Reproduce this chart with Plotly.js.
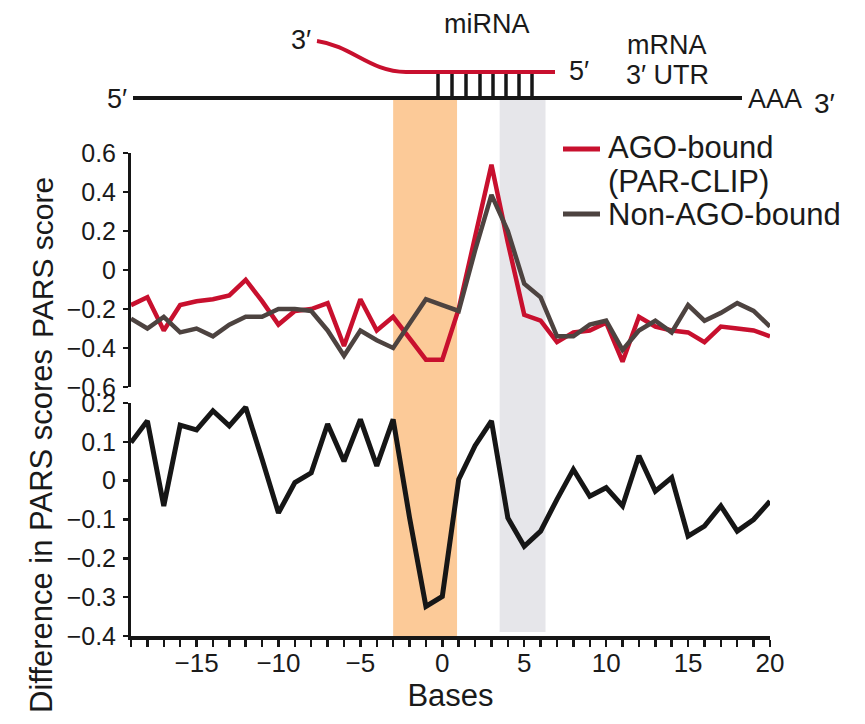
<!DOCTYPE html>
<html>
<head>
<meta charset="utf-8">
<script src="https://cdn.plot.ly/plotly-3.0.1.min.js"></script>
<style>html,body{margin:0;padding:0;background:#fff;}#chart{width:865px;height:724px;}</style>
</head>
<body>
<div id="chart"></div>
<script>
// ---- data ----
const bases = [-19,-18,-17,-16,-15,-14,-13,-12,-11,-10,-9,-8,-7,-6,-5,-4,-3,-2,-1,0,1,2,3,4,5,6,7,8,9,10,11,12,13,14,15,16,17,18,19,20];
const agoBound = [-0.18,-0.14,-0.31,-0.18,-0.16,-0.15,-0.13,-0.05,-0.16,-0.28,-0.21,-0.20,-0.17,-0.39,-0.15,-0.31,-0.24,-0.35,-0.46,-0.46,-0.20,0.17,0.54,0.14,-0.23,-0.26,-0.37,-0.32,-0.31,-0.27,-0.47,-0.24,-0.29,-0.31,-0.32,-0.37,-0.29,-0.30,-0.31,-0.34];
const nonAgoBound = [-0.25,-0.30,-0.24,-0.32,-0.30,-0.34,-0.28,-0.24,-0.24,-0.20,-0.20,-0.21,-0.31,-0.44,-0.31,-0.36,-0.40,-0.27,-0.15,-0.18,-0.21,0.10,0.385,0.20,-0.07,-0.14,-0.34,-0.34,-0.28,-0.26,-0.41,-0.31,-0.26,-0.32,-0.18,-0.26,-0.22,-0.17,-0.21,-0.29];
const difference = [0.098,0.154,-0.065,0.143,0.131,0.18,0.141,0.189,0.055,-0.083,-0.005,0.02,0.146,0.05,0.158,0.038,0.158,-0.095,-0.324,-0.298,0.003,0.09,0.154,-0.096,-0.169,-0.13,-0.048,0.029,-0.04,-0.018,-0.065,0.064,-0.027,0.008,-0.143,-0.117,-0.065,-0.13,-0.1,-0.053];
const xTickVals = [-15,-10,-5,0,5,10,15,20];
const upperTicks = [-0.6,-0.4,-0.2,0,0.2,0.4,0.6];
const lowerTicks = [-0.4,-0.3,-0.2,-0.1,0,0.1,0.2];
const seriesNames = ['AGO-bound', '(PAR-CLIP)', 'Non-AGO-bound'];
const axisTitles = ['PARS score', 'Difference in PARS scores', 'Bases'];
const orangeBand = [-3, 0.9];
const greyBand = [3.5, 6.3];

// ---- style ----
const FONT = 'Liberation Sans, Arial, Helvetica, sans-serif';
const RED = '#c8102e';
const DARK = '#4d4340';
const BLACK = '#161616';
const TXT = '#1a1a1a';
const ML = 131, MR = 95, MT = 0, MB = 88, W = 865, H = 724;
const PW = W - ML - MR, PH = H - MT - MB;
const fx = x => (x - ML) / PW;
const fy = y => (PH + MT - y) / PH;
const minus = v => v < 0 ? '−' + Math.abs(v) : String(v);

const traces = [
  {x: bases, y: agoBound, xaxis: 'x', yaxis: 'y', mode: 'lines', name: 'AGO-bound (PAR-CLIP)',
   line: {color: RED, width: 4.5}, showlegend: false},
  {x: bases, y: nonAgoBound, xaxis: 'x', yaxis: 'y', mode: 'lines', name: 'Non-AGO-bound',
   line: {color: DARK, width: 4.5}, showlegend: false},
  {x: bases, y: difference, xaxis: 'x', yaxis: 'y2', mode: 'lines', name: 'Difference',
   line: {color: BLACK, width: 5}, showlegend: false}
];

const shapes = [];
shapes.push({type: 'rect', layer: 'below', xref: 'x', yref: 'paper', x0: orangeBand[0], x1: orangeBand[1],
  y0: 0, y1: fy(100), fillcolor: '#fcca98', line: {width: 0}});
shapes.push({type: 'rect', layer: 'below', xref: 'x', yref: 'paper', x0: greyBand[0], x1: greyBand[1],
  y0: fy(632), y1: fy(100), fillcolor: '#e6e6ea', line: {width: 0}});
shapes.push({type: 'line', xref: 'paper', yref: 'paper', x0: fx(133), x1: fx(742), y0: fy(98), y1: fy(98),
  line: {color: BLACK, width: 4}});
[438, 452, 466, 480, 493, 506, 519, 532].forEach(px => {
  shapes.push({type: 'line', xref: 'paper', yref: 'paper', x0: fx(px), x1: fx(px), y0: fy(74), y1: fy(97),
    line: {color: BLACK, width: 3.5}});
});
const p = (x, y) => fx(x).toFixed(5) + ',' + fy(y).toFixed(5);
shapes.push({type: 'path', xref: 'paper', yref: 'paper',
  path: 'M' + p(317, 41) + ' C' + p(352, 46) + ' ' + p(370, 72) + ' ' + p(406, 72) + ' L' + p(555, 72),
  line: {color: RED, width: 4}});
shapes.push({type: 'line', xref: 'paper', yref: 'paper', x0: fx(563), x1: fx(600), y0: fy(149), y1: fy(149),
  line: {color: RED, width: 5}});
shapes.push({type: 'line', xref: 'paper', yref: 'paper', x0: fx(563), x1: fx(600), y0: fy(214), y1: fy(214),
  line: {color: DARK, width: 5}});

const ann = (text, x, y, size, xanchor, angle) => ({text: text, xref: 'paper', yref: 'paper', x: fx(x), y: fy(y),
  xanchor: xanchor || 'center', yanchor: 'middle', showarrow: false, textangle: angle || 0,
  font: {family: FONT, size: size, color: TXT}});

const annotations = [
  ann('miRNA', 487, 24, 27),
  ann('3′', 301, 40, 27),
  ann('5′', 579, 71, 27),
  ann('mRNA', 667, 45, 27),
  ann('3′ UTR', 667, 75, 27),
  ann('5′', 117, 99, 27),
  ann('AAA', 746, 99, 27, 'left'),
  ann('3′', 812, 104, 28, 'left'),
  ann(seriesNames[0], 606, 147, 31, 'left'),
  ann(seriesNames[1], 606, 181, 31, 'left'),
  ann(seriesNames[2], 606, 214, 31, 'left'),
  ann(axisTitles[0], 42, 257, 30, 'center', -90),
  ann(axisTitles[1], 41, 531, 31, 'center', -90)
];

const yCommon = {
  ticks: 'outside', ticklen: 5, tickwidth: 2.5, tickcolor: BLACK,
  showline: true, linecolor: BLACK, linewidth: 3, showgrid: false, zeroline: false,
  tickfont: {family: FONT, size: 25, color: TXT}, ticklabelstandoff: 2
};

const layout = {
  width: W, height: H,
  margin: {l: ML, r: MR, t: MT, b: MB, pad: 0},
  paper_bgcolor: '#ffffff', plot_bgcolor: 'rgba(0,0,0,0)',
  font: {family: FONT, color: TXT},
  showlegend: false,
  xaxis: {
    domain: [0, 1], anchor: 'y2', range: [-19, 20],
    tickvals: xTickVals, ticktext: xTickVals.map(minus),
    ticks: 'outside', ticklen: 7, tickwidth: 2.5, tickcolor: BLACK,
    minor: {dtick: 1, tick0: 0, ticks: 'outside', ticklen: 7, tickwidth: 2.5, tickcolor: BLACK},
    showline: true, linecolor: BLACK, linewidth: 4, showgrid: false, zeroline: false,
    tickfont: {family: FONT, size: 26, color: TXT}, ticklabelstandoff: -6,
    title: {text: axisTitles[2], font: {family: FONT, size: 31, color: TXT}, standoff: 0}
  },
  yaxis: Object.assign({
    domain: [fy(387), fy(153)], anchor: 'x', range: [-0.6, 0.6],
    tickvals: upperTicks, ticktext: upperTicks.map(minus)
  }, yCommon),
  yaxis2: Object.assign({
    domain: [0, fy(403)], anchor: 'x', range: [-0.4, 0.2],
    tickvals: lowerTicks, ticktext: lowerTicks.map(minus)
  }, yCommon),
  shapes: shapes,
  annotations: annotations
};

Plotly.newPlot('chart', traces, layout, {displayModeBar: false, staticPlot: true});
</script>
</body>
</html>
